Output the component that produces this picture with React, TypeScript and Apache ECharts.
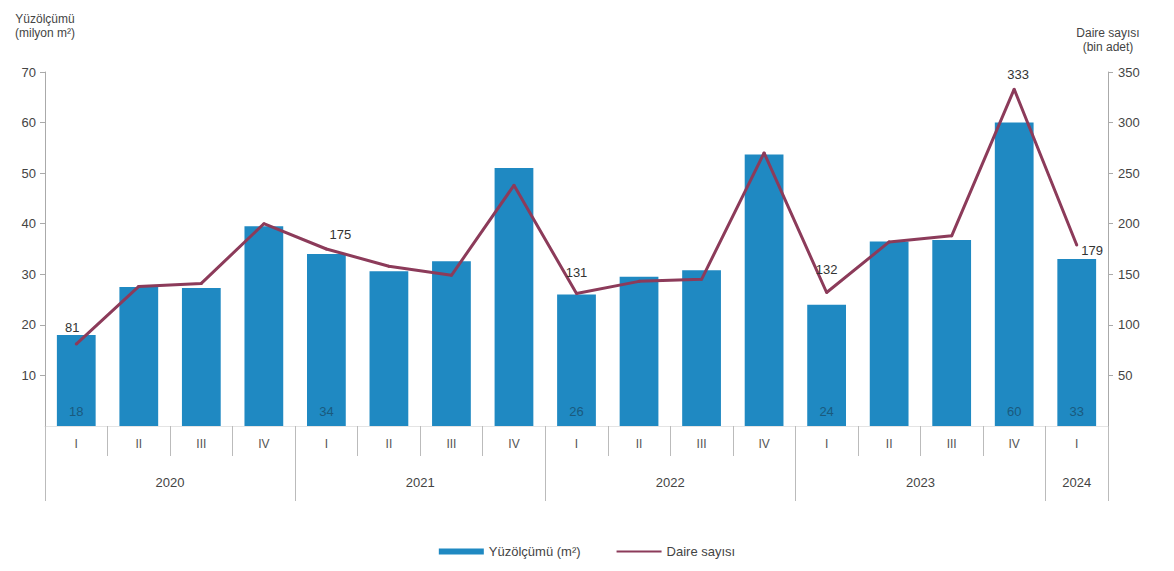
import React, { useEffect, useRef } from "react";
import * as echarts from "echarts";

const quarters = ["I", "II", "III", "IV", "I", "II", "III", "IV", "I", "II", "III", "IV", "I", "II", "III", "IV", "I"];
const years = ["2020", "2021", "2022", "2023", "2024"];
const quartersPerYear = [4, 4, 4, 4, 1];
const floorArea = [18, 27.5, 27.3, 39.5, 34, 30.6, 32.6, 51, 26, 29.5, 30.8, 53.7, 24, 36.5, 36.8, 60, 33];
const dwellings = [81, 138, 141, 200, 175, 158, 149, 238, 131, 143, 145, 270, 132, 182, 188, 333, 179];
const labelledIdx = [0, 4, 8, 12, 15, 16];

const FONT = "'Liberation Sans', Arial, sans-serif";
const BAR = "#1f89c2";
const LINE = "#8c3b5a";

export default function App() {
  const ref = useRef<HTMLDivElement>(null);
  useEffect(() => {
    if (!ref.current) return;
    const chart = echarts.init(ref.current, null, { renderer: "svg" });

    const bounds: number[] = [0];
    const centers: number[] = [];
    quartersPerYear.forEach((n) => {
      const start = bounds[bounds.length - 1];
      centers.push(start + n / 2);
      bounds.push(start + n);
    });
    const total = bounds[bounds.length - 1];

    const lineLabelCfg: Record<number, any> = {
      0: { position: "top", offset: [-4, -4] },
      4: { position: "top", offset: [14, -2] },
      8: { position: "top", offset: [0, -8] },
      12: { position: "top", offset: [0, -10] },
      15: { position: "top", offset: [4, -2] },
      16: { position: "right", offset: [-2, 6] },
    };

    chart.setOption({
      animation: false,
      textStyle: { fontFamily: FONT },
      grid: { left: 45, right: 66, top: 72, bottom: 145 },
      legend: {
        bottom: 8,
        left: "center",
        itemWidth: 45,
        itemHeight: 6,
        itemGap: 35,
        textStyle: { fontSize: 13, color: "#444", fontFamily: FONT },
        data: [
          { name: "Yüzölçümü (m²)", icon: "rect" },
          { name: "Daire sayısı", itemStyle: { opacity: 0 } },
        ],
      },
      xAxis: [
        {
          type: "category",
          data: quarters,
          boundaryGap: true,
          position: "bottom",
          axisLine: { show: true, lineStyle: { color: "#e4e4e4" } },
          axisTick: { show: true, interval: 0, length: 30, lineStyle: { color: "#bbb" } },
          axisLabel: { interval: 0, margin: 12, fontSize: 12, color: "#555", fontFamily: FONT },
        },
        {
          type: "value",
          min: 0,
          max: total,
          position: "bottom",
          axisLine: { show: false },
          splitLine: { show: false },
          axisTick: { show: true, customValues: bounds, length: 75, lineStyle: { color: "#bbb" } },
          axisLabel: {
            customValues: centers,
            margin: 50,
            fontSize: 13,
            color: "#444",
            fontFamily: FONT,
            formatter: (v: number) => years[centers.indexOf(v)] ?? "",
          },
        },
      ],
      yAxis: [
        {
          type: "value",
          min: 0,
          max: 70,
          interval: 10,
          name: "Yüzölçümü\n(milyon m²)",
          nameLocation: "end",
          nameGap: 32,
          nameTextStyle: { fontSize: 12, lineHeight: 14, color: "#444", align: "center", fontFamily: FONT },
          axisLine: { show: true, lineStyle: { color: "#aaa" } },
          axisTick: { show: true, length: 5, lineStyle: { color: "#aaa" } },
          axisLabel: { showMinLabel: false, fontSize: 13, color: "#444", margin: 9, fontFamily: FONT },
          splitLine: { show: false },
        },
        {
          type: "value",
          min: 0,
          max: 350,
          interval: 50,
          name: "Daire sayısı\n(bin adet)",
          nameLocation: "end",
          nameGap: 18,
          nameTextStyle: { fontSize: 12, lineHeight: 14, color: "#444", align: "center", fontFamily: FONT },
          axisLine: { show: true, lineStyle: { color: "#aaa" } },
          axisTick: { show: true, length: 5, lineStyle: { color: "#aaa" } },
          axisLabel: { showMinLabel: false, fontSize: 13, color: "#444", margin: 10, fontFamily: FONT },
          splitLine: { show: false },
        },
      ],
      series: [
        {
          name: "Yüzölçümü (m²)",
          type: "bar",
          xAxisIndex: 0,
          yAxisIndex: 0,
          barCategoryGap: "38%",
          itemStyle: { color: BAR },
          data: floorArea.map((v, i) => ({
            value: v,
            label: labelledIdx.includes(i)
              ? {
                  show: true,
                  position: "insideBottom",
                  distance: 8,
                  color: "#1a5a7e",
                  fontSize: 13,
                  fontFamily: FONT,
                  formatter: () => String(Math.round(v)),
                }
              : { show: false },
          })),
        },
        {
          name: "Daire sayısı",
          type: "line",
          xAxisIndex: 0,
          yAxisIndex: 1,
          symbol: "circle",
          symbolSize: 3,
          itemStyle: { color: LINE },
          lineStyle: { color: LINE, width: 3 },
          data: dwellings.map((v, i) => ({
            value: v,
            label: lineLabelCfg[i]
              ? {
                  show: true,
                  ...lineLabelCfg[i],
                  color: "#333",
                  fontSize: 13,
                  fontFamily: FONT,
                }
              : { show: false },
          })),
        },
      ],
    });
    return () => chart.dispose();
  }, []);
  return (
    <div
      ref={ref}
      style={{ position: "fixed", left: 0, top: 0, width: 1174, height: 571, background: "#fff" }}
    />
  );
}
